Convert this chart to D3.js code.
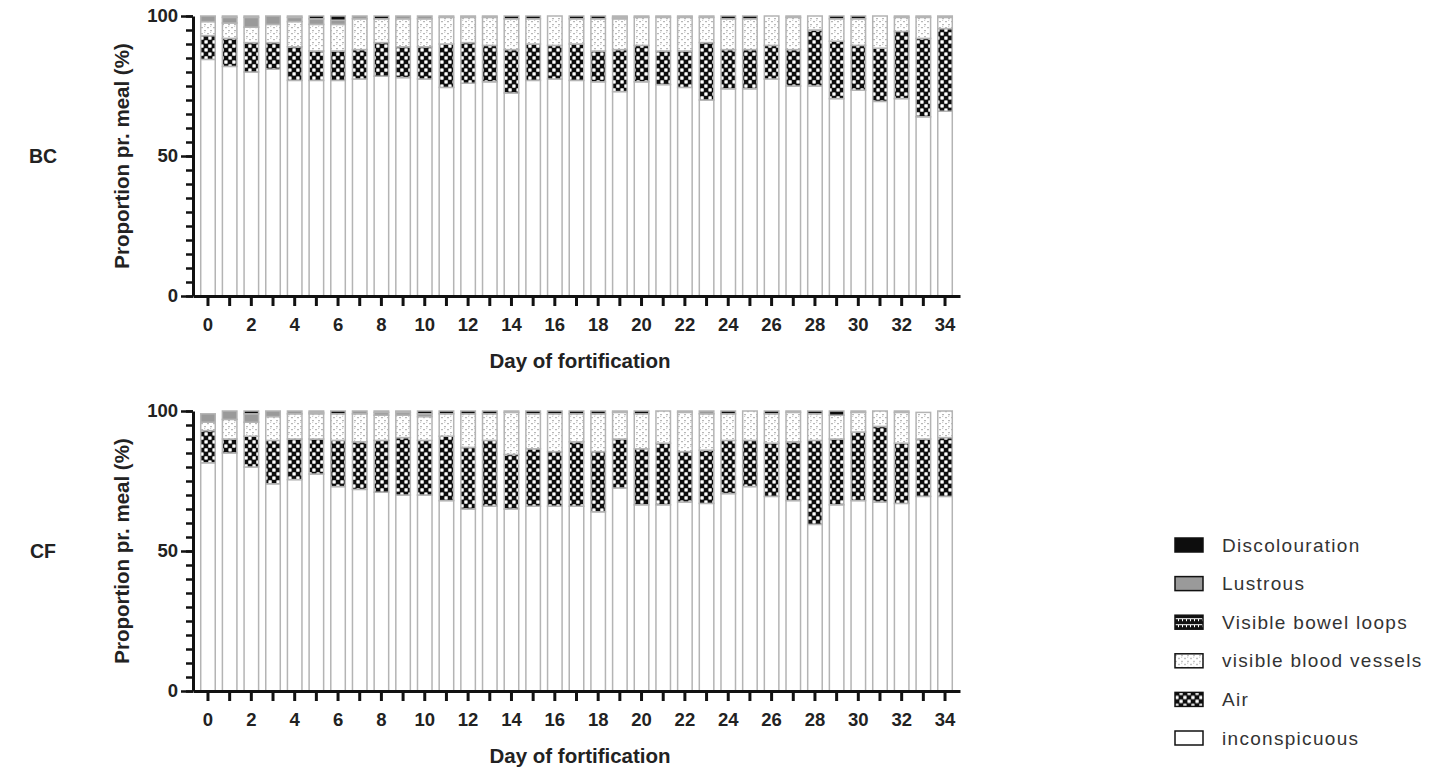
<!DOCTYPE html>
<html>
<head>
<meta charset="utf-8">
<script src="https://cdn.jsdelivr.net/npm/d3@7/dist/d3.min.js"></script>
<style>
  html, body { margin: 0; padding: 0; background: #fff; }
  svg { display: block; }
  text { font-family: "Liberation Sans", Arial, sans-serif; }
</style>
</head>
<body>
<svg id="chart" width="1434" height="770"></svg>
<script>
// ---------------- DATA ----------------
const days = d3.range(0, 35);
const seriesNames = ["inconspicuous", "Air", "visible blood vessels", "Visible bowel loops", "Lustrous", "Discolouration"];
const legendOrder = ["Discolouration", "Lustrous", "Visible bowel loops", "visible blood vessels", "Air", "inconspicuous"];
const yTickLabels = [0, 50, 100];
const xTickLabels = [0, 2, 4, 6, 8, 10, 12, 14, 16, 18, 20, 22, 24, 26, 28, 30, 32, 34];
const panelLabels = ["BC", "CF"];
const xTitle = "Day of fortification";
const yTitle = "Proportion pr. meal (%)";

// BC panel
const bcInconspicuous = [84.5, 82, 80, 81, 77, 77, 77, 77.5, 78.5, 78, 77.5, 74.5, 76, 76.5, 72.5, 77, 77.5, 77, 76.5, 73, 76.5, 75.5, 74.5, 70, 74, 74, 77.5, 75, 75, 70.5, 73.5, 69.5, 70.5, 64, 66];
const bcAir = [8.5, 10, 10.5, 9.5, 12, 10.5, 10.5, 10.5, 12, 11, 11.5, 15.5, 14.5, 13, 15.5, 13, 12, 13, 11, 15, 13, 12, 13, 20.5, 14, 14, 12, 13, 20, 20.5, 16, 19, 24, 28, 29.5];
const bcBloodVessels = [5, 5.5, 5.5, 6.5, 9, 9.5, 9.5, 11, 8.5, 10, 10, 9.5, 9, 10, 11, 9, 10.5, 9, 11.5, 11, 10, 12, 12, 9, 11, 11, 10.5, 11.5, 5, 8, 9.5, 11.5, 5, 7.5, 4];
const bcBowelLoops = [0, 0, 0, 0, 0, 0, 0, 0, 0, 0, 0, 0, 0, 0, 0, 0, 0, 0, 0, 0, 0, 0, 0, 0, 0, 0, 0, 0, 0, 0, 0, 0, 0, 0, 0];
const bcLustrous = [2, 2, 3.5, 3, 1.5, 2, 1.5, 1, 0, 1, 1, 0.5, 0.5, 0.5, 0, 0, 0, 0, 0, 0.5, 0, 0.5, 0.5, 0.5, 0, 0, 0, 0.5, 0, 0, 0, 0, 0.5, 0.5, 0.5];
const bcDiscolouration = [0, 0.5, 0.5, 0, 0.5, 1, 1.5, 0, 1, 0, 0, 0, 0, 0, 1, 1, 0, 1, 1, 0.5, 0.5, 0, 0, 0, 1, 1, 0, 0, 0, 1, 1, 0, 0, 0, 0];

// CF panel
const cfInconspicuous = [81.5, 85, 80, 74, 75.5, 77.5, 73, 72, 71, 70, 70, 68, 65, 66, 65, 66, 66, 66, 64, 72.5, 66.5, 66.5, 67.5, 67, 70.5, 73, 69.5, 68, 59.5, 66.5, 68, 67.5, 67, 69.5, 69.5];
const cfAir = [11.5, 5, 11, 15.5, 14.5, 12.5, 16.5, 17, 18.5, 20.5, 19.5, 23, 22, 23.5, 19.5, 20.5, 19.5, 23, 21.5, 17.5, 20, 22, 18, 19, 19, 16.5, 19, 21, 30, 23.5, 24.5, 27, 21.5, 20.5, 21];
const cfBloodVessels = [3, 7, 5, 8.5, 9, 9, 9.5, 10, 9, 8, 8.5, 8, 12, 9.5, 15, 12.5, 13.5, 10, 13.5, 9.5, 12.5, 11.5, 14, 13, 9.5, 10.5, 10.5, 10.5, 9.5, 8.5, 7, 5.5, 11, 9.5, 9.5];
const cfBowelLoops = [0, 0, 0, 0, 0, 0, 0, 0, 0, 0, 0, 0, 0, 0, 0, 0, 0, 0, 0, 0, 0, 0, 0, 0, 0, 0, 0, 0, 0, 0, 0, 0, 0, 0, 0];
const cfLustrous = [3, 3, 3, 2, 1, 0.5, 0, 1, 1, 1, 1, 0, 0, 0, 0, 0, 0, 0, 0, 0, 0, 0, 0.5, 1, 0, 0, 0, 0.5, 0, 0, 0, 0, 0.5, 0, 0];
const cfDiscolouration = [0, 0, 1, 0, 0, 0.5, 1, 0, 0.5, 0.5, 1, 1, 1, 1, 0.5, 1, 1, 1, 1, 0.5, 1, 0, 0, 0, 1, 0, 1, 0, 1, 1.5, 0.5, 0, 0, 0, 0];

// ---------------- BUILD ----------------
const svg = d3.select("#chart");
svg.append("rect").attr("width", 1434).attr("height", 770).attr("fill", "#fff");

const defs = svg.append("defs");
// Air: checker of black and white dots
const pAir = defs.append("pattern").attr("id", "pAir").attr("patternUnits", "userSpaceOnUse")
  .attr("width", 8).attr("height", 8);
pAir.append("rect").attr("width", 8).attr("height", 8).attr("fill", "#7a7a7a");
pAir.append("circle").attr("cx", 2).attr("cy", 2).attr("r", 2.7).attr("fill", "#0d0d0d");
pAir.append("circle").attr("cx", 6).attr("cy", 6).attr("r", 2.7).attr("fill", "#0d0d0d");
pAir.append("circle").attr("cx", 6).attr("cy", 2).attr("r", 1.7).attr("fill", "#fff");
pAir.append("circle").attr("cx", 2).attr("cy", 6).attr("r", 1.7).attr("fill", "#fff");
// Visible blood vessels: white with fine gray dots
const pBV = defs.append("pattern").attr("id", "pBV").attr("patternUnits", "userSpaceOnUse")
  .attr("width", 6).attr("height", 6);
pBV.append("rect").attr("width", 6).attr("height", 6).attr("fill", "#fff");
pBV.append("rect").attr("x", 0).attr("y", 0).attr("width", 2).attr("height", 1.2).attr("fill", "#b8b8b8");
pBV.append("rect").attr("x", 3).attr("y", 3).attr("width", 2).attr("height", 1.2).attr("fill", "#b8b8b8");
pBV.append("rect").attr("x", 0).attr("y", 2).attr("width", 1.2).attr("height", 1).attr("fill", "#d0d0d0");
// Visible bowel loops: black with white dashes
const pBL = defs.append("pattern").attr("id", "pBL").attr("patternUnits", "userSpaceOnUse")
  .attr("width", 8).attr("height", 6);
pBL.append("rect").attr("width", 8).attr("height", 6).attr("fill", "#111");
pBL.append("rect").attr("x", 0).attr("y", 2).attr("width", 8).attr("height", 1).attr("fill", "#fff");
pBL.append("rect").attr("x", 3).attr("y", 3).attr("width", 1).attr("height", 2).attr("fill", "#fff");
pBL.append("rect").attr("x", 7).attr("y", 3).attr("width", 1).attr("height", 2).attr("fill", "#fff");

const fills = {
  "inconspicuous": "#ffffff",
  "Air": "url(#pAir)",
  "visible blood vessels": "url(#pBV)",
  "Visible bowel loops": "url(#pBL)",
  "Lustrous": "#9a9a9a",
  "Discolouration": "#0d0d0d"
};

const panels = [
  { label: panelLabels[0], top: 16, bottom: 296,
    series: [bcInconspicuous, bcAir, bcBloodVessels, bcBowelLoops, bcLustrous, bcDiscolouration] },
  { label: panelLabels[1], top: 411, bottom: 691,
    series: [cfInconspicuous, cfAir, cfBloodVessels, cfBowelLoops, cfLustrous, cfDiscolouration] }
];

const xLeft = 193, xRight = 960;
const FONT = "'Liberation Sans', Arial, sans-serif";

panels.forEach(p => {
  const g = svg.append("g");
  const x = d3.scaleBand().domain(days).range([xLeft, xRight]).paddingInner(0.33).paddingOuter(0.356);
  const y = d3.scaleLinear().domain([0, 100]).range([p.bottom, p.top]);

  const rows = days.map((d, i) => {
    const r = { day: d };
    seriesNames.forEach((s, k) => r[s] = p.series[k][i]);
    return r;
  });
  const stacked = d3.stack().keys(seriesNames)(rows);

  const layers = g.append("g").selectAll("g").data(stacked).join("g")
    .attr("fill", d => fills[d.key]);
  layers.selectAll("rect").data(d => d.filter(v => v[1] - v[0] > 0)).join("rect")
    .attr("x", d => x(d.data.day))
    .attr("width", x.bandwidth())
    .attr("y", d => y(d[1]))
    .attr("height", d => y(d[0]) - y(d[1]))
    .attr("stroke", "#b4b4b4")
    .attr("stroke-width", 1.5);

  // Y axis: minor ticks
  const yMinor = g.append("g").attr("transform", `translate(${xLeft},0)`)
    .call(d3.axisLeft(y).tickValues(d3.range(0, 101, 5)).tickSize(7).tickFormat(""));
  yMinor.select(".domain").remove();
  yMinor.selectAll("line").attr("stroke", "#111").attr("stroke-width", 2.5);
  // Y axis: major ticks
  const yMajor = g.append("g").attr("transform", `translate(${xLeft},0)`)
    .call(d3.axisLeft(y).tickValues(yTickLabels).tickSize(12).tickSizeOuter(0).tickPadding(3));
  yMajor.select(".domain").attr("stroke", "#111").attr("stroke-width", 3);
  yMajor.selectAll("line").attr("stroke", "#111").attr("stroke-width", 2.5);
  yMajor.selectAll("text").attr("font-size", 18.5).attr("font-weight", "bold").attr("fill", "#222")
    .style("font-family", FONT);

  // X axis
  const xAxis = g.append("g").attr("transform", `translate(0,${p.bottom})`)
    .call(d3.axisBottom(x).tickSize(10).tickSizeOuter(0).tickPadding(12)
      .tickFormat(d => xTickLabels.includes(d) ? d : ""));
  xAxis.select(".domain").attr("stroke", "#111").attr("stroke-width", 3);
  xAxis.selectAll("line").attr("stroke", "#111").attr("stroke-width", 3);
  xAxis.selectAll("text").attr("font-size", 18.5).attr("font-weight", "bold").attr("fill", "#222")
    .style("font-family", FONT);

  // Titles
  g.append("text").attr("x", 580).attr("y", p.bottom + 72)
    .attr("text-anchor", "middle").attr("font-size", 20.5).attr("font-weight", "bold").attr("fill", "#222")
    .text(xTitle);
  g.append("text").attr("transform", `translate(129,${(p.top + p.bottom) / 2}) rotate(-90)`)
    .attr("text-anchor", "middle").attr("font-size", 20.5).attr("font-weight", "bold").attr("fill", "#222")
    .text(yTitle);
  g.append("text").attr("x", 43).attr("y", (p.top + p.bottom) / 2 + 7)
    .attr("text-anchor", "middle").attr("font-size", 19.5).attr("font-weight", "bold").attr("fill", "#222")
    .text(p.label);
});

// Legend
const legend = svg.append("g").attr("transform", "translate(1175,545)");
const li = legend.selectAll("g").data(legendOrder).join("g")
  .attr("transform", (d, i) => `translate(0,${i * 38.6})`);
li.append("rect").attr("x", 0).attr("y", -7).attr("width", 28).attr("height", 14)
  .attr("fill", d => fills[d]).attr("stroke", "#111").attr("stroke-width", 1.5);
li.append("text").attr("x", 47).attr("y", 6.5).attr("font-size", 19).attr("fill", "#333")
  .attr("letter-spacing", 1.3)
  .text(d => d);
</script>
</body>
</html>
